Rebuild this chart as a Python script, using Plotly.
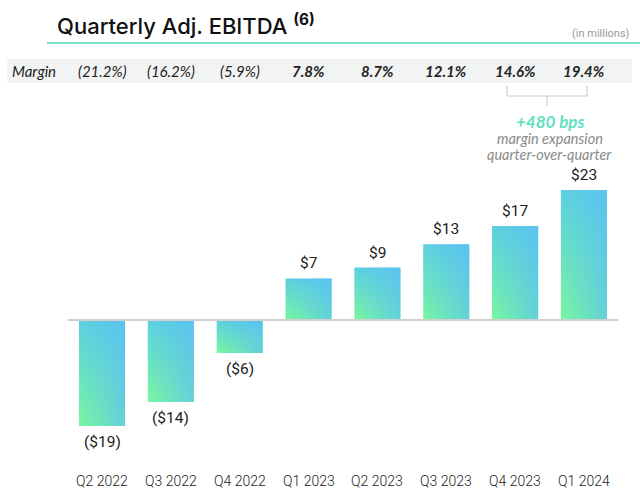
import plotly.graph_objects as go

quarters = ["Q2 2022", "Q3 2022", "Q4 2022", "Q1 2023", "Q2 2023", "Q3 2023", "Q4 2023", "Q1 2024"]
ebitda = [-18.6, -14.4, -5.8, 7.3, 9.2, 13.3, 16.5, 22.8]
ebitda_labels = ["($19)", "($14)", "($6)", "$7", "$9", "$13", "$17", "$23"]
margins = ["(21.2%)", "(16.2%)", "(5.9%)", "7.8%", "8.7%", "12.1%", "14.6%", "19.4%"]
margin_bold = [False, False, False, True, True, True, True, True]

W, H = 640, 498
BAR_W = 0.67
PX_PER_CAT = 68.85
X0_PX = 102
PX_PER_UNIT = 5.7
ZERO_PX = 320

x_range = [-X0_PX / PX_PER_CAT, (W - X0_PX) / PX_PER_CAT]
y_range = [-(H - ZERO_PX) / PX_PER_UNIT, ZERO_PX / PX_PER_UNIT]


def py(p):
    return 1 - p / H


fig = go.Figure()

for i, v in enumerate(ebitda):
    lo, hi = min(0, v), max(0, v)
    xl, xr = i - BAR_W / 2, i + BAR_W / 2
    xs = [xl, xr, xr, xl, xl]
    ys = [lo, lo, hi, hi, lo]
    fig.add_trace(go.Scatter(
        x=xs, y=ys, mode="lines", fill="toself", line=dict(width=0, color="rgba(0,0,0,0)"),
        fillgradient=dict(type="vertical", start=lo, stop=hi,
                          colorscale=[[0, "#78f79e"], [1, "#5ecfe0"]]),
        hoverinfo="skip", showlegend=False))
    fig.add_trace(go.Scatter(
        x=xs, y=ys, mode="lines", fill="toself", line=dict(width=0, color="rgba(0,0,0,0)"),
        fillgradient=dict(type="horizontal", start=xl, stop=xr,
                          colorscale=[[0, "rgba(88,188,250,0)"], [1, "rgba(88,188,250,0.65)"]]),
        hoverinfo="skip", showlegend=False))

annotations = []
# value labels
for i, (v, lab) in enumerate(zip(ebitda, ebitda_labels)):
    annotations.append(dict(x=i, y=v, xref="x", yref="y", text=lab, showarrow=False,
                            yshift=15 if v > 0 else -16, yanchor="middle",
                            font=dict(family="Roboto", size=15.5, color="#222")))
# x tick labels
for i, q in enumerate(quarters):
    annotations.append(dict(x=i, y=py(481), xref="x", yref="paper", text=q, showarrow=False,
                            yanchor="middle",
                            font=dict(family="Roboto", size=14, color="#222", weight=300)))
# margin row
annotations.append(dict(x=10 / W, y=py(71), xref="paper", yref="paper", text="<i>Margin</i>",
                        showarrow=False, xanchor="left", yanchor="middle",
                        font=dict(family="Lato", size=15, color="#222")))
for i, (m, b) in enumerate(zip(margins, margin_bold)):
    t = f"<b><i>{m}</i></b>" if b else f"<i>{m}</i>"
    annotations.append(dict(x=i, y=py(71), xref="x", yref="paper", text=t, showarrow=False,
                            yanchor="middle", font=dict(family="Lato", size=15, color="#222")))
# title
annotations.append(dict(x=55 / W, y=py(25), xref="paper", yref="paper",
                        text="Quarterly Adj. EBITDA <sup><b>(6)</b></sup>", showarrow=False,
                        xanchor="left", yanchor="middle",
                        font=dict(family="Inter", size=22, color="#111", weight=500)))
annotations.append(dict(x=632 / W, y=py(33), xref="paper", yref="paper", text="(in millions)",
                        showarrow=False, xanchor="right", yanchor="middle",
                        font=dict(family="Roboto", size=11, color="#999")))
# bracket callout
annotations.append(dict(x=6.5, y=py(121), xref="x", yref="paper", text="<b><i>+480 bps</i></b>",
                        showarrow=False, yanchor="middle",
                        font=dict(family="Lato", size=17, color="#5fe0bf")))
annotations.append(dict(x=6.5, y=py(138), xref="x", yref="paper", text="<i>margin expansion</i>",
                        showarrow=False, yanchor="middle",
                        font=dict(family="Lato", size=14.5, color="#8a8a8a")))
annotations.append(dict(x=6.5, y=py(154), xref="x", yref="paper", text="<i>quarter-over-quarter</i>",
                        showarrow=False, yanchor="middle",
                        font=dict(family="Lato", size=14.5, color="#8a8a8a")))

shapes = [
    # margin band
    dict(type="rect", xref="paper", yref="paper", x0=7 / W, x1=632 / W, y0=py(83), y1=py(59),
         fillcolor="#f2f3f3", line=dict(width=0), layer="below"),
    # title underline
    dict(type="line", xref="paper", yref="paper", x0=47 / W, x1=1, y0=py(43), y1=py(43),
         line=dict(color="#7de3cf", width=2)),
    # zero line
    dict(type="line", xref="x", yref="y", x0=-0.5, x1=7.5, y0=0, y1=0,
         line=dict(color="#cfcfcf", width=2)),
    # bracket
    dict(type="path", xref="paper", yref="paper",
         path=f"M {507/W},{py(86)} L {507/W},{py(96)} L {587/W},{py(96)} L {587/W},{py(86)}",
         line=dict(color="#cccccc", width=1.2)),
    dict(type="line", xref="paper", yref="paper", x0=547 / W, x1=547 / W, y0=py(96), y1=py(106),
         line=dict(color="#cccccc", width=1.2)),
]

fig.update_layout(
    width=W, height=H, margin=dict(l=0, r=0, t=0, b=0),
    paper_bgcolor="white", plot_bgcolor="white",
    xaxis=dict(range=x_range, visible=False, fixedrange=True),
    yaxis=dict(range=y_range, visible=False, fixedrange=True),
    annotations=annotations, shapes=shapes, showlegend=False,
)

fig.write_html("out.html")
